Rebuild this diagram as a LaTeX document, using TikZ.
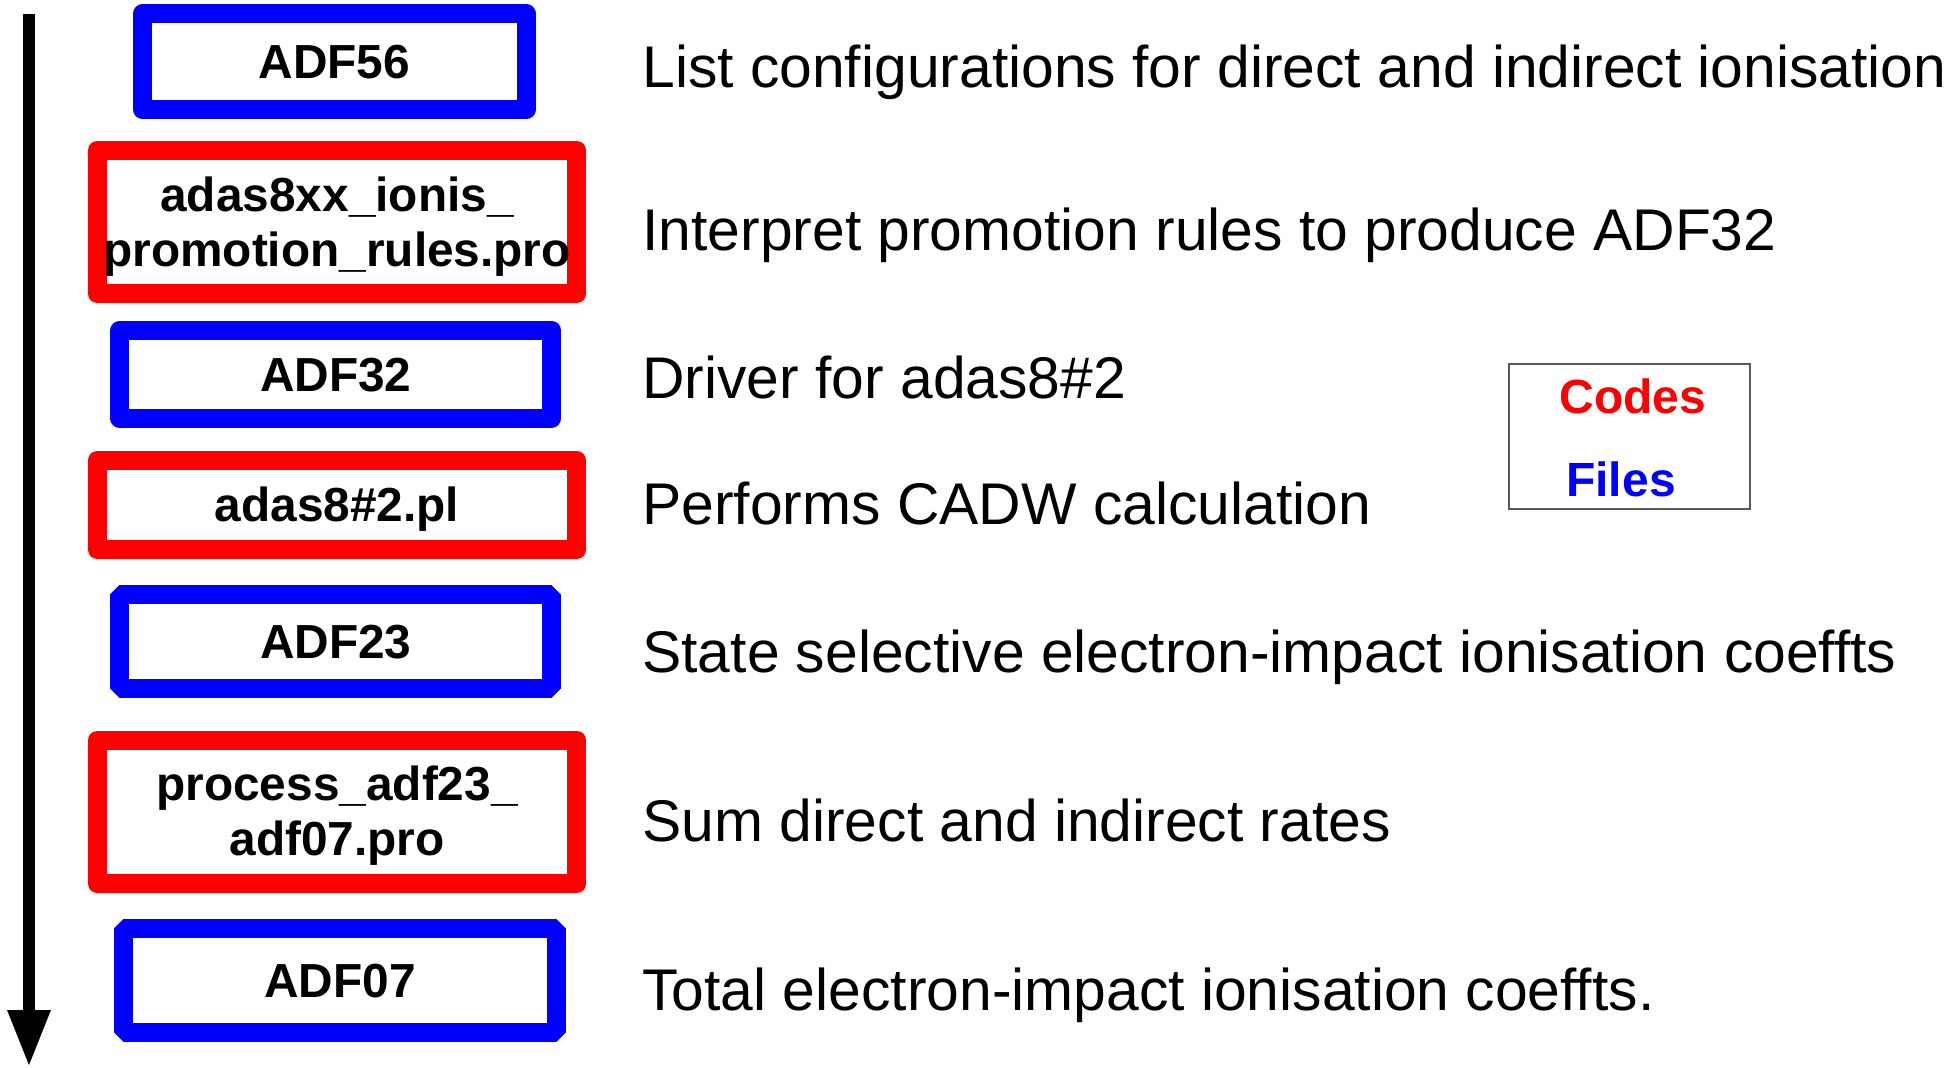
\documentclass[tikz,border=0pt]{standalone}
\usepackage{fontspec}
\setmainfont{Liberation Sans}
\usetikzlibrary{arrows.meta}
\definecolor{fblue}{RGB}{0,0,255}
\definecolor{cred}{RGB}{255,0,0}
\tikzset{
  box/.style={draw, line width=9.5pt, fill=white, inner sep=0pt, outer sep=0pt,
    font=\fontsize{23.9}{27.5}\selectfont\bfseries, text height=16.7pt, text depth=0pt},
  twoline/.style={text height=44pt, text depth=0pt},
  filebox/.style={box, draw=fblue, line join=round},
  filebevel/.style={box, draw=fblue, line join=bevel},
  codebox/.style={box, draw=cred, line join=round},
  desc/.style={anchor=base west, inner sep=0pt, font=\fontsize{29.4}{34}\selectfont},
  legtext/.style={anchor=base, inner sep=0pt, font=\fontsize{24}{28}\selectfont\bfseries},
  flow/.style={line width=6pt, -{Triangle[length=28.5pt,width=20pt]}}
}
\begin{document}
\begin{tikzpicture}[x=0.5pt,y=-0.5pt]
\useasboundingbox (0,0) rectangle (1960,1067);
\fill[white] (0,0) rectangle (1960,1067);

% flow arrow
\coordinate (atop) at (29,14);
\coordinate (abot) at (29,1067);
\draw[flow] (atop) -- (abot);

% boxes
\node[filebox, minimum width=191.9pt, minimum height=47.85pt] (adf56) at (334.4,61.7) {ADF56};
\node[codebox, twoline, minimum width=239.85pt, minimum height=71.75pt] (ionis) at (337.05,222.05)
  {\begin{tabular}[b]{@{}c@{}}adas8xx\_ionis\_\\promotion\_rules.pro\end{tabular}};
\node[filebox, minimum width=216pt, minimum height=44pt] (adf32) at (335.8,374.3) {ADF32};
\node[codebox, minimum width=239.85pt, minimum height=44.7pt] (adas82) at (337.05,505) {adas8\#2.pl};
\node[filebevel, minimum width=216pt, minimum height=47.05pt] (adf23) at (335.8,641.75) {ADF23};
\node[codebox, twoline, minimum width=239.85pt, minimum height=71.9pt] (proc) at (337.05,811.9)
  {\begin{tabular}[b]{@{}c@{}}process\_adf23\_\\adf07.pro\end{tabular}};
\node[filebevel, minimum width=216.1pt, minimum height=51.75pt] (adf07) at (339.9,980.45) {ADF07};

% descriptions
\node[desc] (d1) at (642,87) {List configurations for direct and indirect ionisation};
\node[desc] (d2) at (642,250) {Interpret promotion rules to produce ADF32};
\node[desc] (d3) at (642,398) {Driver for adas8\#2};
\node[desc] (d4) at (642,524) {Performs CADW calculation};
\node[desc] (d5) at (642,672) {State selective electron-impact ionisation coeffts};
\node[desc] (d6) at (642,841) {Sum direct and indirect rates};
\node[desc] (d7) at (642,1010) {Total electron-impact ionisation coeffts.};

% legend
\node[draw=black!65, line width=0.75pt, minimum width=120.5pt, minimum height=72.5pt, inner sep=0pt] (legend) at (1629.5,436.5) {};
\node[legtext, text=cred] (lcodes) at (1633,413) {Codes};
\node[legtext, text=fblue] (lfiles) at (1621,496) {Files};
\end{tikzpicture}
\end{document}
